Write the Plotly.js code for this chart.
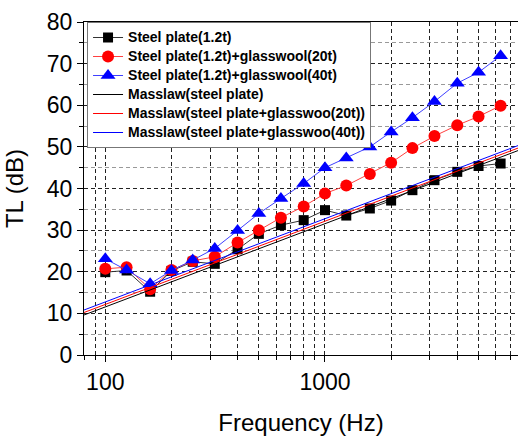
<!DOCTYPE html>
<html><head><meta charset="utf-8">
<script src="https://cdn.plot.ly/plotly-3.0.1.min.js"></script>
<style>html,body{margin:0;padding:0;background:#fff}#chart{width:518px;height:436px}</style>
</head><body><div id="chart"></div>
<script>
const freq = [100,125,160,200,250,315,400,500,630,800,1000,1250,1600,2000,2500,3150,4000,5000,6300];
const steel = [19.9,20.3,15.2,20.2,22.4,21.9,25.4,29.1,31.2,32.4,34.8,33.5,35.2,37.1,39.6,42.0,44.0,45.4,46.0];
const gw20  = [20.7,21.1,15.8,20.4,22.6,23.6,27.0,30.0,33.0,35.7,38.8,40.7,43.5,46.2,49.7,52.6,55.2,57.3,59.9];
const gw40  = [23.1,20.4,17.1,20.3,22.8,25.6,29.9,34.0,37.6,41.2,45.0,47.3,50.0,53.6,57.0,60.9,65.3,67.9,71.9];
const massFreq  = [79, 8000];
const massSteel = [9.5, 49.6];
const massGw20  = [10.1, 50.2];
const massGw40  = [10.7, 50.8];
const xMajor = [100, 1000];
const xMajorText = ['100', '1000'];
const xMinor = [80,90,200,300,400,500,600,700,800,900,2000,3000,4000,5000,6000,7000];
const names = ['Steel plate(1.2t)','Steel plate(1.2t)+glasswool(20t)','Steel plate(1.2t)+glasswool(40t)',
  'Masslaw(steel plate)','Masslaw(steel plate+glasswoo(20t))','Masslaw(steel plate+glasswoo(40t))'];

const FONT = 'Arial, "Liberation Sans", sans-serif';
const lg = n => '<span style="font-size:14px">' + n + '</span>';
const traces = [
  {x: freq, y: steel, name: lg(names[0]), mode:'lines+markers', line:{color:'#333', width:1},
   marker:{symbol:'square', size:10, color:'#000'}},
  {x: freq, y: gw20, name: lg(names[1]), mode:'lines+markers', line:{color:'#ff4040', width:1},
   marker:{symbol:'circle', size:12, color:'#ff0000'}},
  {x: freq, y: gw40, name: lg(names[2]), mode:'lines+markers', line:{color:'#4040ff', width:1},
   marker:{symbol:'triangle-up', size:13, color:'#0000ff'}},
  {x: massFreq, y: massSteel, name: lg(names[3]), mode:'lines', line:{color:'#000', width:1}},
  {x: massFreq, y: massGw20, name: lg(names[4]), mode:'lines', line:{color:'#ff0000', width:1}},
  {x: massFreq, y: massGw40, name: lg(names[5]), mode:'lines', line:{color:'#0000ff', width:1}}
];
const layout = {
  width: 518, height: 436,
  margin: {l: 84, r: 0, t: 22, b: 81},
  paper_bgcolor: '#fff', plot_bgcolor: '#fff',
  font: {family: FONT, color: '#000'},
  showlegend: true,
  legend: {x: 0.007, y: 1, xanchor: 'left', yanchor: 'top', bgcolor: '#fff',
    bordercolor: '#777', borderwidth: 1,
    font: {family: FONT, size: 12, color: '#000', weight: 'bold'}, tracegroupgap: 0},
  xaxis: {
    type: 'log', range: [Math.log10(80), Math.log10(80) + 434/219.7],
    tickmode: 'array', tickvals: xMajor, ticktext: xMajorText,
    ticks: 'outside', ticklen: 6, tickcolor: '#000', tickfont: {size: 23},
    showline: true, linecolor: '#000', linewidth: 1, mirror: true,
    showgrid: true, gridcolor: '#222', griddash: '4px,3px', gridwidth: 1,
    minor: {tickmode: 'array', tickvals: xMinor, ticks: 'outside', ticklen: 4, tickcolor: '#000',
      showgrid: true, gridcolor: '#222', griddash: '4px,3px', gridwidth: 1},
    zeroline: false,
    title: {text: 'Frequency (Hz)', font: {size: 24}, standoff: 22}
  },
  yaxis: {
    range: [0, 80], tickmode: 'linear', tick0: 0, dtick: 10,
    ticks: 'outside', ticklen: 6, tickcolor: '#000', tickfont: {size: 23},
    showline: true, linecolor: '#000', linewidth: 1, mirror: true,
    showgrid: true, gridcolor: '#222', griddash: '4px,3px', gridwidth: 1,
    minor: {dtick: 5, ticks: 'outside', ticklen: 4, tickcolor: '#000',
      showgrid: true, gridcolor: '#999', griddash: '4px,3px', gridwidth: 1},
    zeroline: false,
    title: {text: 'TL (dB)', font: {size: 24}, standoff: 16}
  }
};
Plotly.newPlot('chart', traces, layout, {displayModeBar: false, staticPlot: true});
</script></body></html>
